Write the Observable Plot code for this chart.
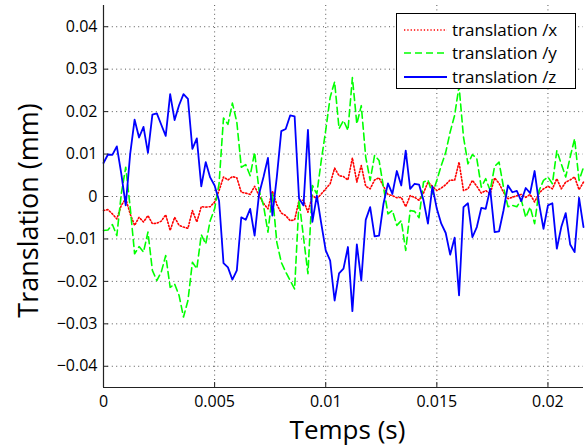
<!DOCTYPE html>
<html><head><meta charset="utf-8">
<script src="https://cdn.jsdelivr.net/npm/d3@7"></script>
<script src="https://cdn.jsdelivr.net/npm/@observablehq/plot@0.6"></script>
<style>
body{margin:0;background:#fff;}
#wrap{position:relative;width:585px;height:447px;font-family:"Open Sans",sans-serif;}
#legend{position:absolute;left:396px;top:13px;width:180px;height:76px;border:1.5px solid #000;background:#fff;box-sizing:border-box;}
.row{position:absolute;left:0;height:24px;display:flex;align-items:center;font-size:17px;color:#000;white-space:nowrap;}
.row svg{margin-left:7px;margin-right:5px;}
</style></head><body><div id="wrap"></div>
<script>
const time = [0,0.0002,0.0004,0.0006,0.0008,0.001,0.0012,0.0014,0.0016,0.0018,
0.002,0.0022,0.0024,0.0026,0.0028,0.003,0.0032,0.0034,0.0036,0.0038,
0.004,0.0042,0.0044,0.0046,0.0048,0.005,0.0052,0.0054,0.0056,0.0058,
0.006,0.0062,0.0064,0.0066,0.0068,0.007,0.0072,0.0074,0.0076,0.0078,
0.008,0.0082,0.0084,0.0086,0.0088,0.009,0.0092,0.0094,0.0096,0.0098,
0.01,0.0102,0.0104,0.0106,0.0108,0.011,0.0112,0.0114,0.0116,0.0118,
0.012,0.0122,0.0124,0.0126,0.0128,0.013,0.0132,0.0134,0.0136,0.0138,
0.014,0.0142,0.0144,0.0146,0.0148,0.015,0.0152,0.0154,0.0156,0.0158,
0.016,0.0162,0.0164,0.0166,0.0168,0.017,0.0172,0.0174,0.0176,0.0178,
0.018,0.0182,0.0184,0.0186,0.0188,0.019,0.0192,0.0194,0.0196,0.0198,
0.02,0.0202,0.0204,0.0206,0.0208,0.021,0.0212,0.0214,0.0216];

const transX = [-0.0033,-0.0031,-0.0041,-0.0053,-0.0021,-0.0005,-0.0041,-0.0068,-0.0049,-0.0060,
-0.0045,-0.0064,-0.0063,-0.0058,-0.0043,-0.0080,-0.0049,-0.0068,-0.0072,-0.0075,
-0.0033,-0.0060,-0.0024,-0.0025,-0.0024,-0.0013,0.0014,0.0046,0.0039,0.0047,
0.0044,0.0010,0.0008,0.0005,0.0024,0.0002,-0.0016,-0.0029,0.0013,-0.0019,
-0.0039,-0.0045,-0.0057,-0.0055,-0.0009,-0.0009,-0.0037,0.0002,-0.0005,0.0006,
0.0018,0.0030,0.0067,0.0049,0.0047,0.0039,0.0091,0.0034,0.0073,0.0024,
0.0018,0.0039,0.0044,0.0024,0.0005,0.0002,-0.0003,-0.0002,-0.0024,0.0002,
-0.0002,-0.0009,0.0008,0.0034,0.0024,0.0014,0.0020,0.0028,0.0039,0.0038,
0.0081,0.0014,0.0018,0.0038,0.0024,0.0008,0.0014,0.0006,0.0044,0.0031,
0.0010,-0.0005,-0.0002,0.0002,0.0005,-0.0002,0.0005,-0.0013,0.0008,0.0018,
0.0024,0.0018,0.0042,0.0018,0.0034,0.0039,0.0046,0.0016,0.0034];

const transY = [-0.0080,-0.0079,-0.0066,-0.0092,0.0006,0.0069,-0.0025,-0.0135,-0.0118,-0.0131,
-0.0084,-0.0174,-0.0198,-0.0178,-0.0139,-0.0214,-0.0206,-0.0233,-0.0284,-0.0245,
-0.0155,-0.0170,-0.0090,-0.0112,-0.0057,-0.0029,0.0030,0.0185,0.0170,0.0220,
0.0175,0.0069,0.0075,0.0049,0.0104,0.0014,-0.0021,-0.0084,0.0006,-0.0108,
-0.0155,-0.0178,-0.0198,-0.0218,-0.0009,-0.0096,-0.0182,0.0026,0.0006,0.0085,
0.0156,0.0234,0.0270,0.0160,0.0179,0.0156,0.0280,0.0171,0.0214,0.0093,
0.0038,0.0097,0.0085,0.0022,-0.0041,-0.0033,-0.0068,-0.0057,-0.0127,-0.0033,
-0.0035,-0.0050,0.0034,0.0039,0.0006,0.0038,0.0073,0.0104,0.0152,0.0191,
0.0260,0.0140,0.0077,0.0099,0.0089,0.0022,0.0042,0.0014,0.0071,0.0081,
0.0022,-0.0024,-0.0021,-0.0024,-0.0008,-0.0049,-0.0025,-0.0064,0.0014,0.0038,
0.0046,0.0030,0.0108,0.0077,0.0046,0.0093,0.0136,0.0038,0.0069];

const transZ = [0.0079,0.0099,0.0098,0.0118,0.0054,-0.0021,0.0100,0.0181,0.0139,0.0164,
0.0103,0.0193,0.0196,0.0169,0.0143,0.0241,0.0180,0.0215,0.0241,0.0230,
0.0112,0.0137,0.0024,0.0081,0.0045,0.0026,-0.0010,-0.0157,-0.0167,-0.0196,
-0.0174,-0.0049,-0.0055,-0.0029,-0.0092,0.0006,0.0046,0.0091,-0.0045,0.0046,
0.0154,0.0159,0.0191,0.0189,-0.0005,-0.0021,0.0157,-0.0060,0.0002,-0.0064,
-0.0127,-0.0151,-0.0245,-0.0181,-0.0170,-0.0119,-0.0270,-0.0113,-0.0198,-0.0055,
-0.0025,-0.0094,-0.0092,-0.0017,0.0031,0.0006,0.0060,0.0026,0.0108,0.0018,
0.0030,0.0028,-0.0009,-0.0064,0.0024,-0.0029,-0.0064,-0.0086,-0.0137,-0.0097,
-0.0233,-0.0025,-0.0016,-0.0096,-0.0072,-0.0027,-0.0029,0.0018,-0.0084,-0.0082,
-0.0033,0.0026,0.0010,0.0013,-0.0011,0.0020,0.0008,0.0060,-0.0017,-0.0076,
-0.0021,-0.0016,-0.0123,-0.0072,-0.0039,-0.0113,-0.0131,-0.0003,-0.0072];

const seriesNames = ["translation /x", "translation /y", "translation /z"];
const seriesColors = ["#ff0000", "#00ff00", "#0000ff"];
const seriesDash = ["1.3,2", "7,4", null];
const xTicks = [0, 0.005, 0.01, 0.015, 0.02];
const xTickLabels = ["0", "0.005", "0.01", "0.015", "0.02"];
const yTicks = [-0.04, -0.03, -0.02, -0.01, 0, 0.01, 0.02, 0.03, 0.04];
const yTickLabels = ["\u22120.04", "\u22120.03", "\u22120.02", "\u22120.01", "0", "0.01", "0.02", "0.03", "0.04"];
const xTitle = "Temps (s)";
const yTitle = "Translation (mm)";

const seriesValues = [transX, transY, transZ];
const tables = seriesValues.map(vals => time.map((t, i) => ({t, v: vals[i]})));
const xLab = new Map(xTicks.map((d, i) => [d, xTickLabels[i]]));
const yLab = new Map(yTicks.map((d, i) => [d, yTickLabels[i]]));

const chart = Plot.plot({
  width: 585, height: 447,
  marginLeft: 103, marginRight: 2, marginTop: 5, marginBottom: 60,
  style: {fontFamily: '"Open Sans", sans-serif', background: "#fff", color: "#000"},
  x: {domain: [0, 0.0216]},
  y: {domain: [-0.045, 0.045]},
  marks: [
    Plot.gridX(xTicks, {stroke: "#444", strokeOpacity: 1, strokeWidth: 0.9, strokeDasharray: "1,3.4"}),
    Plot.gridY(yTicks, {stroke: "#444", strokeOpacity: 1, strokeWidth: 0.9, strokeDasharray: "1,3.4"}),
    ...tables.map((tb, k) => Plot.line(tb, {x: "t", y: "v", stroke: seriesColors[k], strokeWidth: k === 2 ? 1.8 : 1.6, strokeDasharray: seriesDash[k]})),
    Plot.ruleX([0], {stroke: "#222", strokeWidth: 1.2}),
    Plot.ruleY([-0.045], {stroke: "#222", strokeWidth: 1.2}),
    Plot.axisX(xTicks, {tickSize: 0, tickPadding: 8, tickFormat: d => xLab.get(d), fontSize: 16, label: null}),
    Plot.axisX(xTicks, {tickSize: 5, dy: -5, tickFormat: () => "", label: null, stroke: "#222"}),
    Plot.axisY(yTicks, {tickSize: 0, tickPadding: 6, tickFormat: d => yLab.get(d), fontSize: 16, label: null}),
    Plot.axisY(yTicks, {tickSize: 5, dx: 5, tickFormat: () => "", label: null, stroke: "#222"}),
    Plot.text([xTitle], {text: d => d, frameAnchor: "bottom", textAnchor: "middle", lineAnchor: "middle", dx: 4, dy: 43, fontSize: 26}),
    Plot.text([yTitle], {text: d => d, frameAnchor: "left", textAnchor: "middle", lineAnchor: "middle", rotate: -90, dx: -74, dy: 14, fontSize: 27})
  ]
});
const wrap = document.getElementById("wrap");
wrap.appendChild(chart);

const legend = document.createElement("div");
legend.id = "legend";
const centers = [15.5, 38.8, 62.5];
seriesNames.forEach((name, k) => {
  const row = document.createElement("div");
  row.className = "row";
  row.style.top = (centers[k] - 12) + "px";
  const dash = seriesDash[k] ? ` stroke-dasharray="${seriesDash[k]}"` : "";
  row.innerHTML = `<svg width="43" height="10"><line x1="0" y1="5" x2="43" y2="5" stroke="${seriesColors[k]}" stroke-width="${k===2?1.8:1.6}"${dash}/></svg><span>${name}</span>`;
  legend.appendChild(row);
});
wrap.appendChild(legend);
</script></body></html>
